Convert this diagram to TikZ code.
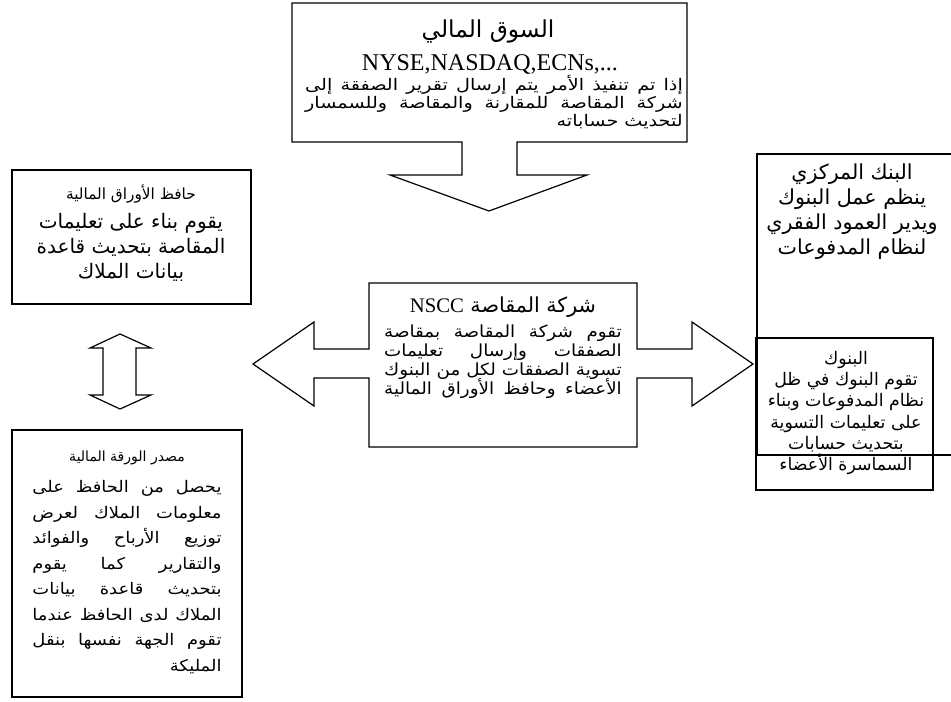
\documentclass[tikz,border=0pt]{standalone}
\usepackage{graphicx}
\usepackage{fontspec}
\setmainfont{Liberation Serif}
\newfontfamily\arabicfont[Script=Arabic]{DejaVu Sans}
\TeXXeTstate=1
\lineskiplimit=-20pt
% #1 horizontal scale, #2 width before scaling, #3 text of the line
\newcommand{\jline}[3]{\scalebox{#1}[1]{\makebox[#2][s]{#3}}}
\newcommand{\hsline}[2]{\scalebox{#1}[1]{#2}}
\tikzset{
  shapeline/.style={draw, line width=0.9pt, line join=miter},
  artext/.style={inner sep=0pt, font=\arabicfont},
}
\begin{document}
\begin{tikzpicture}[x=0.75pt,y=-0.75pt]
\useasboundingbox (0,0) rectangle (951,702);
% market box with down arrow
\draw[shapeline] (292,3) -- (687,3) -- (687,142) -- (517,142) -- (517,175) -- (587,175) -- (489,211) -- (390,175) -- (462,175) -- (462,142) -- (292,142) -- cycle;
\node[artext, font=\arabicfont\fontsize{17.5}{19}\selectfont] (mkttitle) at (488,31) {\beginR السوق المالي\endR};
\node[inner sep=0pt, font=\fontsize{18}{20}\selectfont] (mktnames) at (490,65) {NYSE,NASDAQ,ECNs,...};
\node[artext, font=\arabicfont\fontsize{12}{13.5}\selectfont, align=right] (mktbody) at (494,102)
  {\jline{1.2}{236pt}{\beginR إذا تم تنفيذ الأمر يتم إرسال تقرير الصفقة إلى\endR}\\
   \jline{1.2}{236pt}{\beginR شركة المقاصة للمقارنة والمقاصة وللسمسار\endR}\\
   \hsline{1.2}{\beginR لتحديث حساباته\endR}};
% custodian box
\draw[shapeline] (12,170) rectangle (251,304);
\node[artext, font=\arabicfont\fontsize{11.5}{13}\selectfont] (custtitle) at (131,194) {\beginR حافظ الأوراق المالية\endR};
\node[artext, font=\arabicfont\fontsize{15}{18.75}\selectfont, align=center] (custbody) at (131,247)
  {\beginR يقوم بناء على تعليمات\endR\\ \beginR المقاصة بتحديث قاعدة\endR\\ \beginR بيانات الملاك\endR};
% vertical double arrow
\draw[shapeline] (103,348) -- (90,348) -- (120,334) -- (151,348) -- (136,348) -- (136,395) -- (151,395) -- (120,409) -- (90,395) -- (103,395) -- cycle;
% issuer box
\draw[shapeline] (12,430) rectangle (242,697);
\node[artext, font=\arabicfont\fontsize{10.5}{12}\selectfont] (isstitle) at (127,458) {\beginR مصدر الورقة المالية\endR};
\node[artext, font=\arabicfont\fontsize{12}{19.1}\selectfont, align=right] (issbody) at (127,577)
  {\jline{1.12}{126.6pt}{\beginR يحصل من الحافظ على\endR}\\
   \jline{1.12}{126.6pt}{\beginR معلومات الملاك لعرض\endR}\\
   \jline{1.12}{126.6pt}{\beginR توزيع الأرباح والفوائد\endR}\\
   \jline{1.12}{126.6pt}{\beginR والتقارير كما يقوم\endR}\\
   \jline{1.12}{126.6pt}{\beginR بتحديث قاعدة بيانات\endR}\\
   \jline{1.12}{126.6pt}{\beginR الملاك لدى الحافظ عندما\endR}\\
   \jline{1.12}{126.6pt}{\beginR تقوم الجهة نفسها بنقل\endR}\\
   \hsline{1.12}{\beginR المليكة\endR}};
% NSCC box with double arrow
\draw[shapeline] (369,283) -- (637,283) -- (637,349) -- (692,349) -- (692,322) -- (753,364) -- (692,406) -- (692,378) -- (637,378) -- (637,447) -- (369,447) -- (369,378) -- (314,378) -- (314,406) -- (253,364) -- (314,322) -- (314,349) -- (369,349) -- cycle;
\node[artext, font=\arabicfont\fontsize{15.5}{17}\selectfont] (nscctitle) at (503,307) {\beginR شركة المقاصة \beginL{\rmfamily NSCC}\endL\endR};
\node[artext, font=\arabicfont\fontsize{12.5}{14.25}\selectfont, align=right] (nsccbody) at (503,362)
  {\jline{1.1}{162pt}{\beginR تقوم شركة المقاصة بمقاصة\endR}\\
   \jline{1.1}{162pt}{\beginR الصفقات وإرسال تعليمات\endR}\\
   \jline{1.1}{162pt}{\beginR تسوية الصفقات لكل من البنوك\endR}\\
   \jline{1.1}{162pt}{\beginR الأعضاء وحافظ الأوراق المالية\endR}};
% central bank box (runs off the right edge)
\draw[shapeline] (951,154) -- (757,154) -- (757,455) -- (951,455);
\node[artext, font=\arabicfont\fontsize{15.5}{18.75}\selectfont, align=center] (cbbody) at (852,212)
  {\beginR البنك المركزي\endR\\ \beginR ينظم عمل البنوك\endR\\ \beginR ويدير العمود الفقري\endR\\ \beginR لنظام المدفوعات\endR};
% banks box
\draw[shapeline] (756,338) rectangle (933,490);
\node[artext, font=\arabicfont\fontsize{13}{16}\selectfont, align=center] (banksbody) at (846,413)
  {\beginR البنوك\endR\\ \beginR تقوم البنوك في ظل\endR\\ \beginR نظام المدفوعات وبناء\endR\\ \beginR على تعليمات التسوية\endR\\ \beginR بتحديث حسابات\endR\\ \beginR السماسرة الأعضاء\endR};
\end{tikzpicture}
\end{document}
